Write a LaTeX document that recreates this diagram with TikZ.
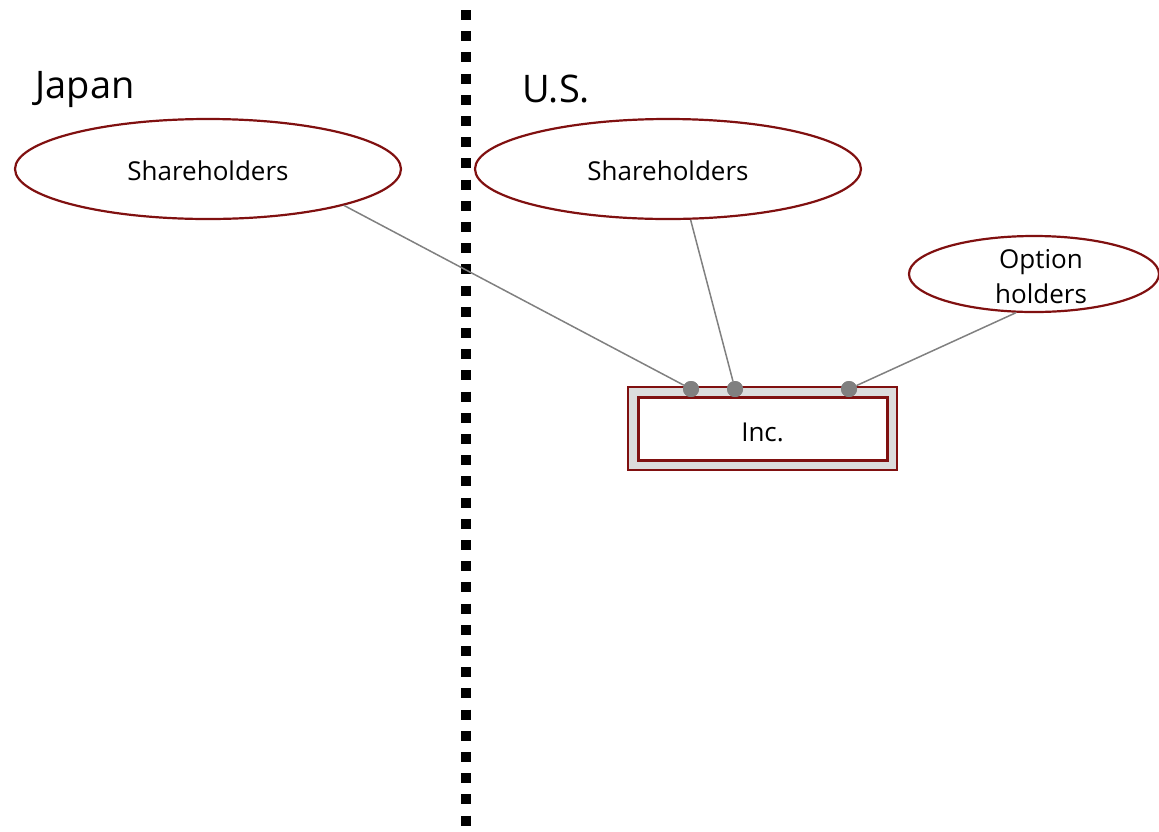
\documentclass[tikz,border=0pt]{standalone}
\usepackage{fontspec}
\setmainfont{Open Sans}
\usetikzlibrary{shapes.geometric}
\definecolor{darkred}{RGB}{128,16,16}
\definecolor{linkgray}{RGB}{128,128,128}
\definecolor{framegray}{RGB}{220,220,220}
\newcommand{\lowered}[2]{\raisebox{-#1}[\height][\depth]{#2}}
\begin{document}
\begin{tikzpicture}[x=1pt,y=-1pt,
  party/.style={ellipse,draw=darkred,line width=2.2pt,fill=white,inner sep=0pt,
    font=\fontsize{26}{34}\selectfont,align=center},
  region/.style={font=\fontsize{38}{42}\selectfont,inner sep=0pt},
  link/.style={draw=linkgray,line width=1.5pt},
  port/.style={circle,fill=linkgray,inner sep=0pt,minimum size=16pt}]
\useasboundingbox (0,0) rectangle (1159,831);

% border between the two jurisdictions
\coordinate (bt) at (466,10);
\coordinate (bb) at (466,831);
\draw[line width=10pt,dash pattern=on 10pt off 11.2pt] (bt) -- (bb);

\node[region] (jp) at (85,89) {Japan};
\node[region] (us) at (556,89) {U.S.};

\node[party,minimum width=386pt,minimum height=100pt] (jsh) at (208,169) {\lowered{2pt}{Shareholders}};
\node[party,minimum width=386pt,minimum height=100pt] (ush) at (668,169) {\lowered{2pt}{Shareholders}};
\node[party,minimum width=250pt,minimum height=76pt] (opt) at (1034,274)
  {\makebox[0pt]{\hspace*{14pt}\smash{\raisebox{-11pt}{\begin{tabular}{@{}c@{}}Option\\[1pt]holders\end{tabular}}}}};

% the company: grey frame around a white box
\node[draw=darkred,line width=2pt,fill=framegray,minimum width=269pt,minimum height=83pt] (frame) at (762.5,428.5) {};
\node[draw=darkred,line width=3pt,fill=white,minimum width=249pt,minimum height=63pt,
  font=\fontsize{26}{30}\selectfont] (inc) at (762.5,428.5) {\lowered{4pt}{Inc.}};

\node[port] (p1) at (691,389) {};
\node[port] (p2) at (735,389) {};
\node[port] (p3) at (849,389) {};

\draw[link] (jsh.-15) -- (p1);
\draw[link] (ush.-66) -- (p2);
\draw[link] (opt.-115) -- (p3);
\node[port] at (p1) {};
\node[port] at (p2) {};
\node[port] at (p3) {};
\end{tikzpicture}
\end{document}
